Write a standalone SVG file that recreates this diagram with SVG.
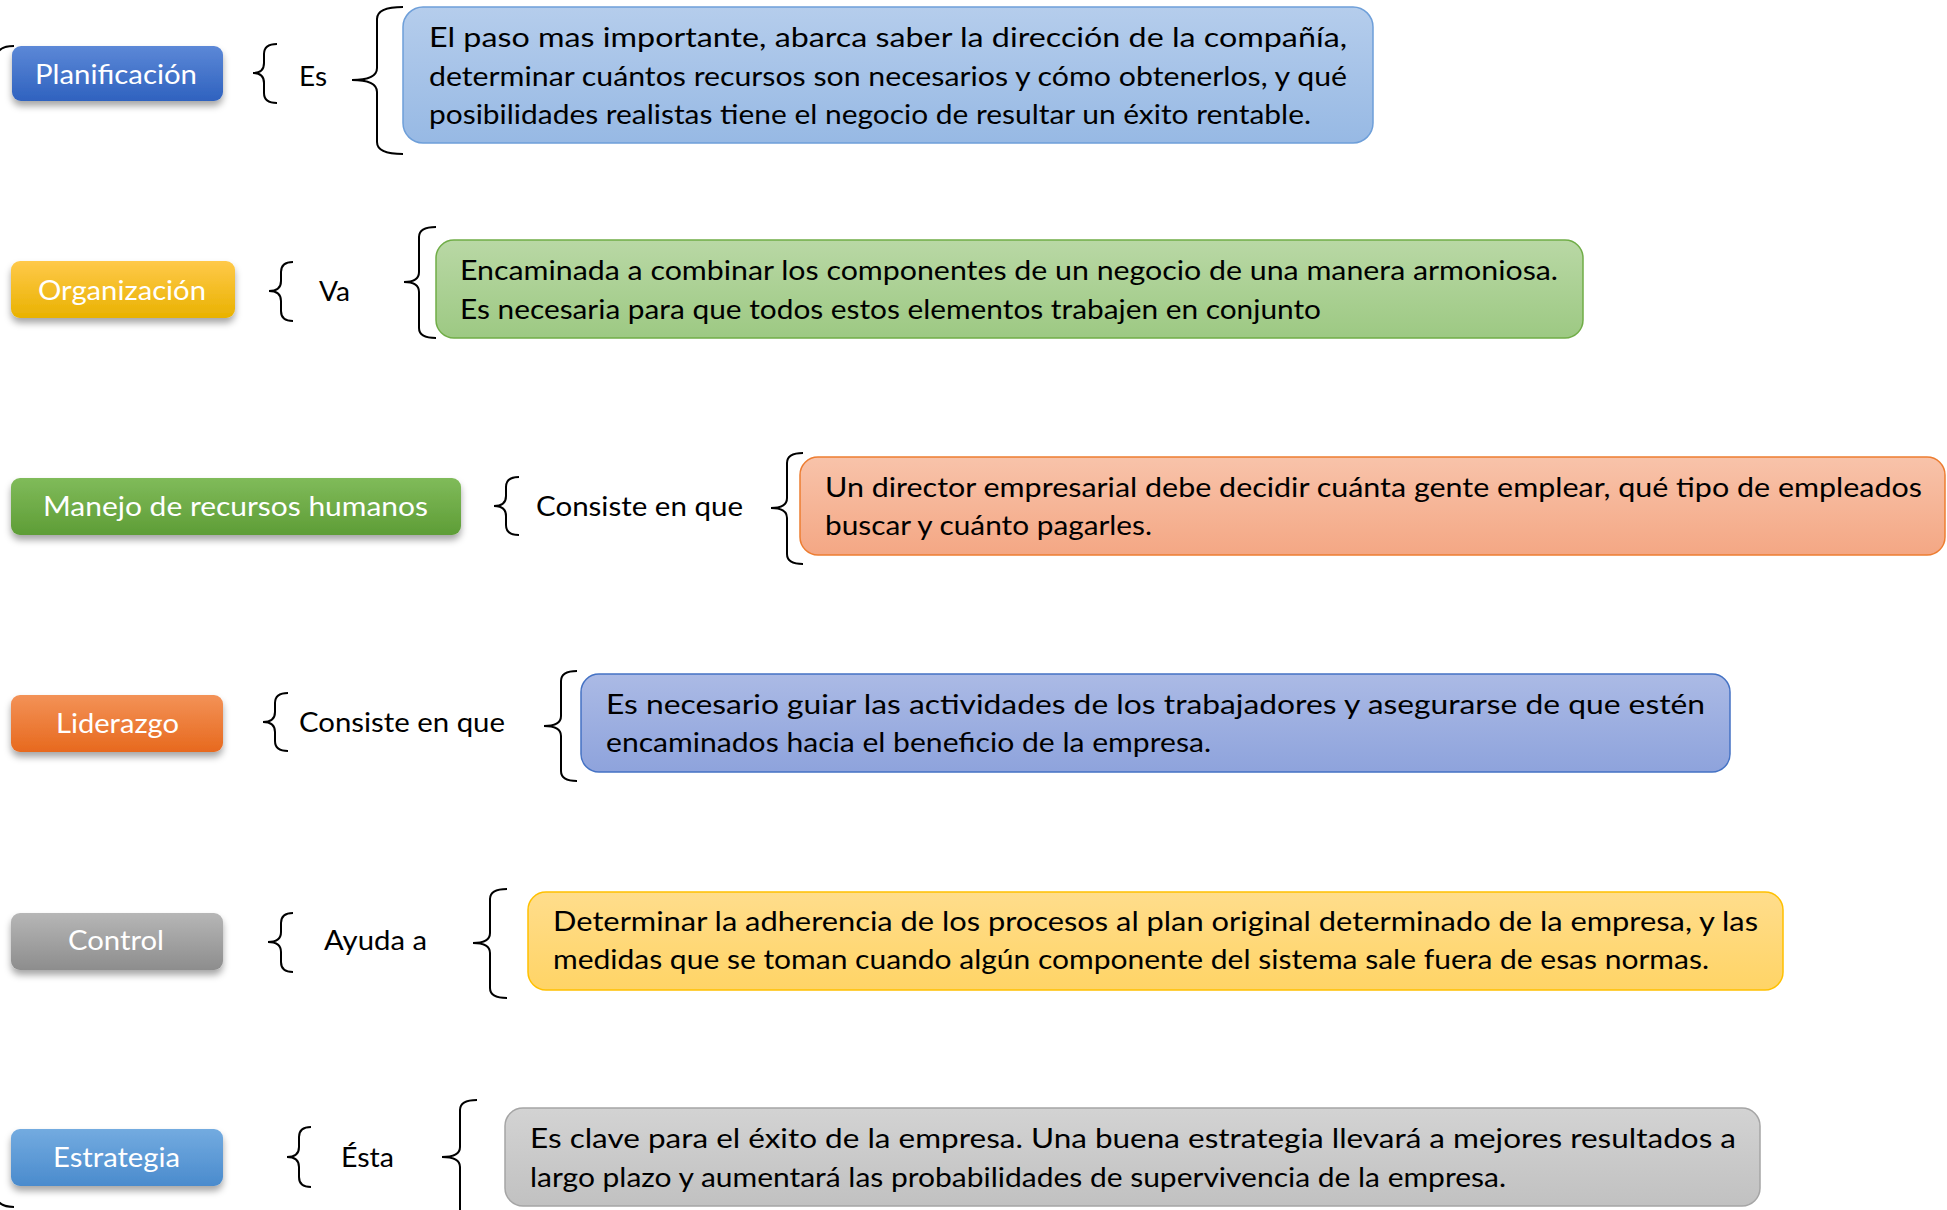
<svg xmlns="http://www.w3.org/2000/svg" width="1947" height="1210" viewBox="0 0 1947 1210">
<style>
.lbl{font-family:Lato,"Open Sans","Liberation Sans",sans-serif;font-size:27px;fill:#ffffff}
.txt{font-family:Lato,"Open Sans","Liberation Sans",sans-serif;font-size:27px;fill:#000000}
.br{fill:none;stroke:#000000;stroke-width:2}
.box{stroke-width:1.5}
</style>
<defs>
<filter id="sh" x="-10%" y="-20%" width="120%" height="160%">
<feDropShadow dx="0" dy="5" stdDeviation="3.5" flood-color="#000000" flood-opacity="0.35"/>
</filter>
<linearGradient id="gPlan" x1="0" y1="0" x2="0" y2="1"><stop offset="0" stop-color="#5c88d7"/><stop offset="1" stop-color="#2f62bf"/></linearGradient>
<linearGradient id="gOrg" x1="0" y1="0" x2="0" y2="1"><stop offset="0" stop-color="#ffc94a"/><stop offset="1" stop-color="#e9b200"/></linearGradient>
<linearGradient id="gMan" x1="0" y1="0" x2="0" y2="1"><stop offset="0" stop-color="#80bb5a"/><stop offset="1" stop-color="#5e9d36"/></linearGradient>
<linearGradient id="gLid" x1="0" y1="0" x2="0" y2="1"><stop offset="0" stop-color="#f39257"/><stop offset="1" stop-color="#e7691e"/></linearGradient>
<linearGradient id="gCon" x1="0" y1="0" x2="0" y2="1"><stop offset="0" stop-color="#b6b6b6"/><stop offset="1" stop-color="#8d8d8d"/></linearGradient>
<linearGradient id="gEst" x1="0" y1="0" x2="0" y2="1"><stop offset="0" stop-color="#73abe0"/><stop offset="1" stop-color="#4a8bcd"/></linearGradient>
<linearGradient id="d1" x1="0" y1="0" x2="0" y2="1"><stop offset="0" stop-color="#b5cdec"/><stop offset="1" stop-color="#97b9e4"/></linearGradient>
<linearGradient id="d2" x1="0" y1="0" x2="0" y2="1"><stop offset="0" stop-color="#b9d8a5"/><stop offset="1" stop-color="#9dc983"/></linearGradient>
<linearGradient id="d3" x1="0" y1="0" x2="0" y2="1"><stop offset="0" stop-color="#f8c3aa"/><stop offset="1" stop-color="#f4a784"/></linearGradient>
<linearGradient id="d4" x1="0" y1="0" x2="0" y2="1"><stop offset="0" stop-color="#abbae5"/><stop offset="1" stop-color="#8ea3dc"/></linearGradient>
<linearGradient id="d5" x1="0" y1="0" x2="0" y2="1"><stop offset="0" stop-color="#ffdd8c"/><stop offset="1" stop-color="#ffd466"/></linearGradient>
<linearGradient id="d6" x1="0" y1="0" x2="0" y2="1"><stop offset="0" stop-color="#d3d3d3"/><stop offset="1" stop-color="#c1c1c1"/></linearGradient>
</defs>
<rect width="1947" height="1210" fill="#ffffff"/>

<g id="connectors">
<path class="br" d="M14,46 Q2,46 -2,52"/>
<path class="br" d="M14,1207 Q2,1207 -2,1201"/>
<path class="br" d="M277,44 Q264,44 264,54 L264,63 Q264,73 253,73 Q264,73 264,83 L264,93 Q264,103 277,103"/>
<path class="br" d="M403,7 Q377,7 377,19 L377,68 Q377,80 352,80 Q377,80 377,92 L377,142 Q377,154 403,154"/>
<path class="br" d="M293,262 Q281,262 281,272 L281,281 Q281,291 269,291 Q281,291 281,301 L281,311 Q281,321 293,321"/>
<path class="br" d="M436,227 Q419,227 419,237 L419,272 Q419,282 404,282 Q419,282 419,292 L419,328 Q419,338 436,338"/>
<path class="br" d="M519,477 Q506,477 506,487 L506,496 Q506,506 494,506 Q506,506 506,516 L506,525 Q506,535 519,535"/>
<path class="br" d="M803,453 Q787,453 787,463 L787,498 Q787,508 771,508 Q787,508 787,518 L787,554 Q787,564 803,564"/>
<path class="br" d="M288,693 Q275,693 275,703 L275,712 Q275,722 263,722 Q275,722 275,732 L275,741 Q275,751 288,751"/>
<path class="br" d="M577,671 Q561,671 561,681 L561,716 Q561,726 544,726 Q561,726 561,736 L561,771 Q561,781 577,781"/>
<path class="br" d="M293,913 Q281,913 281,923 L281,932 Q281,942 268,942 Q281,942 281,952 L281,962 Q281,972 293,972"/>
<path class="br" d="M507,889 Q490,889 490,899 L490,933 Q490,943 473,943 Q490,943 490,953 L490,988 Q490,998 507,998"/>
<path class="br" d="M311,1127 Q299,1127 299,1137 L299,1147 Q299,1157 287,1157 Q299,1157 299,1167 L299,1177 Q299,1187 311,1187"/>
<path class="br" d="M477,1100 Q460,1100 460,1110 L460,1147 Q460,1157 442,1157 Q460,1157 460,1167 L460,1215"/>
</g>

<g id="n-planificacion">
<rect x="12" y="46" width="211" height="55" rx="9" fill="url(#gPlan)" filter="url(#sh)"/>
<text class="lbl" x="35" y="84" textLength="162" lengthAdjust="spacingAndGlyphs">Planificación</text>
</g>
<g id="l-es"><text class="txt" x="299" y="86" textLength="28" lengthAdjust="spacingAndGlyphs">Es</text></g>
<g id="d-planificacion">
<rect class="box" x="403" y="7" width="970" height="136" rx="20" fill="url(#d1)" stroke="#6e9fd9"/>
<text class="txt" x="429" y="47" textLength="918" lengthAdjust="spacingAndGlyphs">El paso mas importante, abarca saber la dirección de la compañía,</text>
<text class="txt" x="429" y="85.5" textLength="918" lengthAdjust="spacingAndGlyphs">determinar cuántos recursos son necesarios y cómo obtenerlos, y qué</text>
<text class="txt" x="429" y="124" textLength="882" lengthAdjust="spacingAndGlyphs">posibilidades realistas tiene el negocio de resultar un éxito rentable.</text>
</g>

<g id="n-organizacion">
<rect x="11" y="261" width="224" height="57" rx="9" fill="url(#gOrg)" filter="url(#sh)"/>
<text class="lbl" x="38" y="300" textLength="168" lengthAdjust="spacingAndGlyphs">Organización</text>
</g>
<g id="l-va"><text class="txt" x="319" y="301" textLength="31" lengthAdjust="spacingAndGlyphs">Va</text></g>
<g id="d-organizacion">
<rect class="box" x="436" y="240" width="1147" height="98" rx="18" fill="url(#d2)" stroke="#70ad47"/>
<text class="txt" x="460" y="280" textLength="1098" lengthAdjust="spacingAndGlyphs">Encaminada a combinar los componentes de un negocio de una manera armoniosa.</text>
<text class="txt" x="460" y="319" textLength="861" lengthAdjust="spacingAndGlyphs">Es necesaria para que todos estos elementos trabajen en conjunto</text>
</g>

<g id="n-manejo">
<rect x="11" y="478" width="450" height="57" rx="9" fill="url(#gMan)" filter="url(#sh)"/>
<text class="lbl" x="43" y="516" textLength="385" lengthAdjust="spacingAndGlyphs">Manejo de recursos humanos</text>
</g>
<g id="l-consiste1"><text class="txt" x="536" y="516" textLength="207" lengthAdjust="spacingAndGlyphs">Consiste en que</text></g>
<g id="d-manejo">
<rect class="box" x="800" y="457" width="1145" height="98" rx="18" fill="url(#d3)" stroke="#ed7d31"/>
<text class="txt" x="825" y="497" textLength="1097" lengthAdjust="spacingAndGlyphs">Un director empresarial debe decidir cuánta gente emplear, qué tipo de empleados</text>
<text class="txt" x="825" y="535" textLength="327" lengthAdjust="spacingAndGlyphs">buscar y cuánto pagarles.</text>
</g>

<g id="n-liderazgo">
<rect x="11" y="695" width="212" height="57" rx="9" fill="url(#gLid)" filter="url(#sh)"/>
<text class="lbl" x="56" y="733" textLength="123" lengthAdjust="spacingAndGlyphs">Liderazgo</text>
</g>
<g id="l-consiste2"><text class="txt" x="299" y="732" textLength="206" lengthAdjust="spacingAndGlyphs">Consiste en que</text></g>
<g id="d-liderazgo">
<rect class="box" x="581" y="674" width="1149" height="98" rx="18" fill="url(#d4)" stroke="#4472c4"/>
<text class="txt" x="606" y="714" textLength="1099" lengthAdjust="spacingAndGlyphs">Es necesario guiar las actividades de los trabajadores y asegurarse de que estén</text>
<text class="txt" x="606" y="752" textLength="605" lengthAdjust="spacingAndGlyphs">encaminados hacia el beneficio de la empresa.</text>
</g>

<g id="n-control">
<rect x="11" y="913" width="212" height="57" rx="9" fill="url(#gCon)" filter="url(#sh)"/>
<text class="lbl" x="68" y="950" textLength="96" lengthAdjust="spacingAndGlyphs">Control</text>
</g>
<g id="l-ayuda"><text class="txt" x="324" y="950" textLength="103" lengthAdjust="spacingAndGlyphs">Ayuda a</text></g>
<g id="d-control">
<rect class="box" x="528" y="892" width="1255" height="98" rx="18" fill="url(#d5)" stroke="#ffc000"/>
<text class="txt" x="553" y="931" textLength="1205" lengthAdjust="spacingAndGlyphs">Determinar la adherencia de los procesos al plan original determinado de la empresa, y las</text>
<text class="txt" x="553" y="969" textLength="1156" lengthAdjust="spacingAndGlyphs">medidas que se toman cuando algún componente del sistema sale fuera de esas normas.</text>
</g>

<g id="n-estrategia">
<rect x="11" y="1129" width="212" height="57" rx="9" fill="url(#gEst)" filter="url(#sh)"/>
<text class="lbl" x="53" y="1167" textLength="127" lengthAdjust="spacingAndGlyphs">Estrategia</text>
</g>
<g id="l-esta"><text class="txt" x="341" y="1167" textLength="53" lengthAdjust="spacingAndGlyphs">Ésta</text></g>
<g id="d-estrategia">
<rect class="box" x="505" y="1108" width="1255" height="98" rx="18" fill="url(#d6)" stroke="#a5a5a5"/>
<text class="txt" x="530" y="1148" textLength="1206" lengthAdjust="spacingAndGlyphs">Es clave para el éxito de la empresa. Una buena estrategia llevará a mejores resultados a</text>
<text class="txt" x="530" y="1187" textLength="976" lengthAdjust="spacingAndGlyphs">largo plazo y aumentará las probabilidades de supervivencia de la empresa.</text>
</g>
</svg>
